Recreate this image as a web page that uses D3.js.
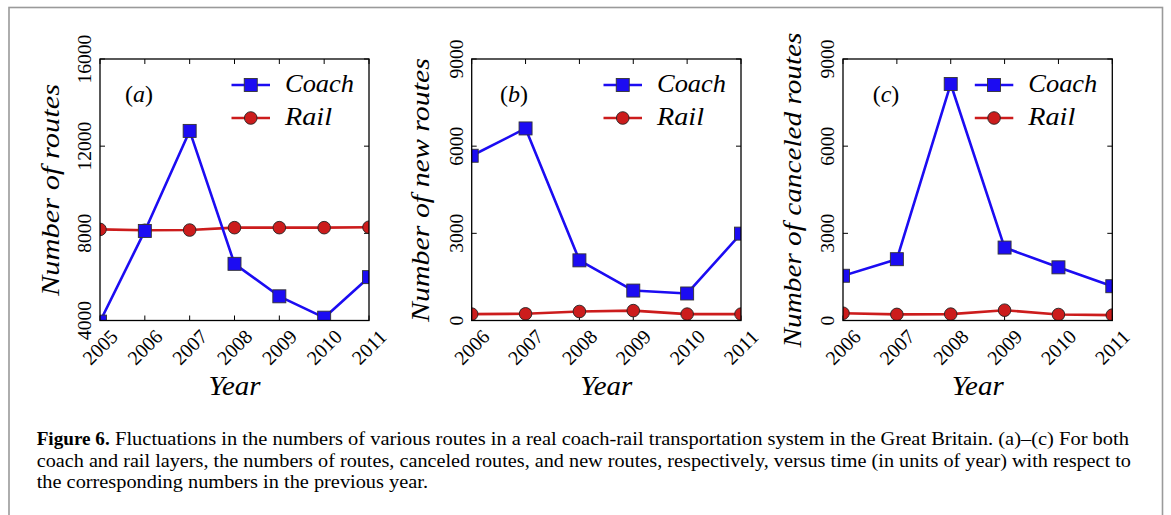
<!DOCTYPE html>
<html><head><meta charset="utf-8">
<script src="https://cdn.jsdelivr.net/npm/d3@7"></script>
<style>
html,body{margin:0;padding:0;background:#fff;}
svg{display:block;}
</style></head>
<body>
<svg id="c" width="1171" height="515" font-family="'Liberation Serif', 'DejaVu Serif', serif"></svg>
<script>
// ---- data ----
const yearsA = [2005, 2006, 2007, 2008, 2009, 2010, 2011];
const coachRoutes = [3950, 8110, 12700, 6600, 5110, 4130, 5990];
const railRoutes = [8180, 8140, 8150, 8260, 8260, 8260, 8280];
const yearsBC = [2006, 2007, 2008, 2009, 2010, 2011];
const coachNew = [5670, 6610, 2070, 1030, 930, 2990];
const railNew = [220, 230, 310, 340, 220, 220];
const coachCanceled = [1540, 2110, 8140, 2510, 1830, 1180];
const railCanceled = [250, 210, 220, 355, 206, 185];
const ticksA = [4000, 8000, 12000, 16000];
const ticksBC = [0, 3000, 6000, 9000];
const yLabels = ["Number of routes", "Number of new routes", "Number of canceled routes"];
const panelTags = ["a", "b", "c"];
const seriesNames = ["Coach", "Rail"];
const captionBold = "Figure 6.";
const captionLines = [
  "Fluctuations in the numbers of various routes in a real coach-rail transportation system in the Great Britain. (a)–(c) For both",
  "coach and rail layers, the numbers of routes, canceled routes, and new routes, respectively, versus time (in units of year) with respect to",
  "the corresponding numbers in the previous year."
];

const svg = d3.select("#c");
const FONT = "'Liberation Serif', 'Times New Roman', serif";
const COACH = "#1c0cf2", RAIL = "#cc1c1c";

// outer frame
svg.append("rect").attr("x", 9).attr("y", 7.5).attr("width", 1153.5).attr("height", 560)
  .attr("fill", "none").attr("stroke", "#9a9a9a").attr("stroke-width", 1.6);

const panels = [
  {x0: 100, x1: 369, years: yearsA, domain: [4000, 16000], ticks: ticksA, coach: coachRoutes, rail: railRoutes, ylab: yLabels[0], ylabX: 59, ylabLen: 212, tag: panelTags[0], tagX: 139},
  {x0: 471.7, x1: 741, years: yearsBC, domain: [0, 9000], ticks: ticksBC, coach: coachNew, rail: railNew, ylab: yLabels[1], ylabX: 429, ylabLen: 264, tag: panelTags[1], tagX: 514},
  {x0: 843, x1: 1112.3, years: yearsBC, domain: [0, 9000], ticks: ticksBC, coach: coachCanceled, rail: railCanceled, ylab: yLabels[2], ylabX: 801, ylabLen: 315, tag: panelTags[2], tagX: 886}
];
const Y0 = 59, Y1 = 320.5;

function T(sel) { return sel.append("text").attr("font-family", FONT).attr("fill", "#000"); }

panels.forEach((p, i) => {
  const x = d3.scaleLinear().domain(d3.extent(p.years)).range([p.x0, p.x1]);
  const y = d3.scaleLinear().domain(p.domain).range([Y1, Y0]);
  const g = svg.append("g");
  const cid = "clip" + i;
  svg.append("defs").append("clipPath").attr("id", cid).append("rect")
    .attr("x", p.x0).attr("y", Y0).attr("width", p.x1 - p.x0).attr("height", Y1 - Y0);

  // ticks (inward, all sides)
  const tl = 5;
  p.years.forEach(yr => {
    g.append("line").attr("x1", x(yr)).attr("x2", x(yr)).attr("y1", Y1).attr("y2", Y1 - tl).attr("stroke", "#000").attr("stroke-width", 1);
    g.append("line").attr("x1", x(yr)).attr("x2", x(yr)).attr("y1", Y0).attr("y2", Y0 + tl).attr("stroke", "#000").attr("stroke-width", 1);
    T(g).attr("transform", `translate(${x(yr)},${347}) rotate(-45)`)
      .attr("text-anchor", "middle").attr("dominant-baseline", "central")
      .attr("font-size", 20).text(yr);
  });
  p.ticks.forEach(t => {
    g.append("line").attr("x1", p.x0).attr("x2", p.x0 + tl).attr("y1", y(t)).attr("y2", y(t)).attr("stroke", "#000").attr("stroke-width", 1);
    g.append("line").attr("x1", p.x1).attr("x2", p.x1 - tl).attr("y1", y(t)).attr("y2", y(t)).attr("stroke", "#000").attr("stroke-width", 1);
    T(g).attr("transform", `translate(${p.x0 - 9},${y(t)}) rotate(-90)`)
      .attr("text-anchor", "middle").attr("font-size", 19.5).text(t);
  });

  // data
  const line = d3.line().x((d, k) => x(p.years[k])).y(d => y(d));
  const dg = g.append("g").attr("clip-path", `url(#${cid})`);
  const series = [[p.rail, RAIL, "circle"], [p.coach, COACH, "square"]];
  series.forEach(([vals, col]) => {
    dg.append("path").datum(vals).attr("d", line).attr("fill", "none")
      .attr("stroke", col).attr("stroke-width", 2.6).attr("stroke-linejoin", "round");
  });
  series.forEach(([vals, col, shape]) => {
    vals.forEach((v, k) => {
      if (shape === "circle") {
        dg.append("circle").attr("cx", x(p.years[k])).attr("cy", y(v)).attr("r", 6.3)
          .attr("fill", col).attr("stroke", "#222").attr("stroke-width", 0.9);
      } else {
        dg.append("rect").attr("x", x(p.years[k]) - 6.5).attr("y", y(v) - 6.5).attr("width", 13).attr("height", 13)
          .attr("fill", col).attr("stroke", "#333").attr("stroke-width", 0.9);
      }
    });
  });

  // spines
  g.append("rect").attr("x", p.x0).attr("y", Y0).attr("width", p.x1 - p.x0).attr("height", Y1 - Y0)
    .attr("fill", "none").attr("stroke", "#000").attr("stroke-width", 1.3);

  // legend
  const lx0 = p.x1 - 137.5, lx1 = p.x1 - 99, tx = p.x1 - 84;
  [[85, COACH, "square", seriesNames[0], 69], [118, RAIL, "circle", seriesNames[1], 47]].forEach(([ly, col, shape, name, len]) => {
    g.append("line").attr("x1", lx0).attr("x2", lx1).attr("y1", ly).attr("y2", ly).attr("stroke", col).attr("stroke-width", 2.6);
    const cx = (lx0 + lx1) / 2;
    if (shape === "circle") g.append("circle").attr("cx", cx).attr("cy", ly).attr("r", 6.3).attr("fill", col).attr("stroke", "#222").attr("stroke-width", 0.9);
    else g.append("rect").attr("x", cx - 6.5).attr("y", ly - 6.5).attr("width", 13).attr("height", 13).attr("fill", col).attr("stroke", "#333").attr("stroke-width", 0.9);
    T(g).attr("x", tx).attr("y", ly + 6.5).attr("font-size", 26).attr("font-style", "italic")
      .attr("textLength", len).attr("lengthAdjust", "spacingAndGlyphs").text(name);
  });

  // panel tag
  const tg = T(g).attr("x", p.tagX).attr("y", 102).attr("text-anchor", "middle").attr("font-size", 24);
  tg.append("tspan").text("(");
  tg.append("tspan").attr("font-style", "italic").text(p.tag);
  tg.append("tspan").text(")");

  // axis labels
  T(g).attr("x", (p.x0 + p.x1) / 2).attr("y", 395).attr("text-anchor", "middle")
    .attr("font-size", 27).attr("font-style", "italic")
    .attr("textLength", 52).attr("lengthAdjust", "spacingAndGlyphs").text("Year");
  T(g).attr("transform", `translate(${p.ylabX},${190}) rotate(-90)`).attr("text-anchor", "middle")
    .attr("font-size", 25).attr("font-style", "italic")
    .attr("textLength", p.ylabLen).attr("lengthAdjust", "spacingAndGlyphs").text(p.ylab);
});

// caption
T(svg).attr("x", 36.7).attr("y", 445).attr("font-size", 18).attr("font-weight", "bold")
  .attr("textLength", 73).attr("lengthAdjust", "spacingAndGlyphs").text(captionBold);
const capX = [115, 36.7, 36.7], capEnd = [1129, 1131, 428], capY = [445, 466.7, 487.7];
captionLines.forEach((t, i) => {
  T(svg).attr("x", capX[i]).attr("y", capY[i]).attr("font-size", 18)
    .attr("textLength", capEnd[i] - capX[i]).attr("lengthAdjust", "spacingAndGlyphs").text(t);
});
</script>
</body></html>
